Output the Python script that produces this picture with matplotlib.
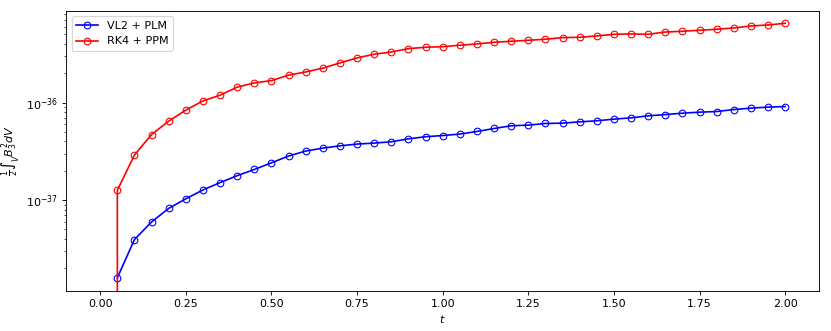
import numpy as np
import matplotlib
matplotlib.use("Agg")
import matplotlib.pyplot as plt

# time samples
t = np.round(np.arange(1, 41) * 0.05, 2)

# VL2 + PLM
vl2_plm = np.array([
    1.60e-38, 3.94e-38, 5.97e-38, 8.22e-38, 1.03e-37, 1.27e-37, 1.51e-37, 1.78e-37,
    2.06e-37, 2.41e-37, 2.83e-37, 3.18e-37, 3.41e-37, 3.60e-37, 3.75e-37, 3.84e-37,
    3.96e-37, 4.25e-37, 4.46e-37, 4.59e-37, 4.75e-37, 5.05e-37, 5.42e-37, 5.78e-37,
    5.87e-37, 6.10e-37, 6.15e-37, 6.34e-37, 6.50e-37, 6.76e-37, 6.97e-37, 7.31e-37,
    7.53e-37, 7.78e-37, 7.97e-37, 8.09e-37, 8.48e-37, 8.77e-37, 8.98e-37, 9.10e-37,
])

# RK4 + PPM (starts from zero at the first output)
t_rk4 = np.concatenate([[0.05], t])
rk4_ppm = np.array([
    0.0,
    1.26e-37, 2.90e-37, 4.70e-37, 6.45e-37, 8.36e-37, 1.04e-36, 1.19e-36, 1.44e-36,
    1.59e-36, 1.68e-36, 1.91e-36, 2.06e-36, 2.25e-36, 2.55e-36, 2.87e-36, 3.13e-36,
    3.30e-36, 3.57e-36, 3.69e-36, 3.74e-36, 3.87e-36, 3.99e-36, 4.15e-36, 4.25e-36,
    4.35e-36, 4.46e-36, 4.63e-36, 4.67e-36, 4.82e-36, 5.01e-36, 5.05e-36, 5.01e-36,
    5.29e-36, 5.38e-36, 5.51e-36, 5.64e-36, 5.82e-36, 6.10e-36, 6.24e-36, 6.50e-36,
])

fig, ax = plt.subplots(figsize=(831 / 80, 331 / 80), dpi=80)
fig.subplots_adjust(left=0.0794, right=0.986, top=0.967, bottom=0.121)

ax.plot(t, vl2_plm, 'b-o', mfc='none', label='VL2 + PLM')
ax.plot(t_rk4, rk4_ppm, 'r-o', mfc='none', label='RK4 + PPM')

ax.set_yscale('log', nonpositive='clip')
ax.set_xlim(-0.1, 2.1)
ax.set_ylim(1.17e-38, 8.7e-36)
ax.set_xlabel(r'$t$')
ax.set_ylabel(r'$\frac{1}{2}\int_V B_3^2 dV$')
ax.legend(loc='upper left')

fig.savefig('out.png', dpi=80)
